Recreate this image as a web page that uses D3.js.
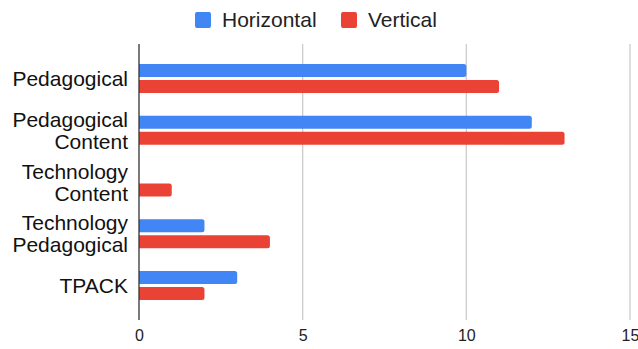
<!DOCTYPE html>
<html lang="en">
<meta charset="utf-8">
<head>
    <script src='https://d3js.org/d3.v7.min.js'></script>
    <style>
        body { margin: 0; background: #fff; }
        text { font-family: "Liberation Sans", Arial, sans-serif; }
    </style>
</head>
<body>
<div id="chart"></div>

<script>
// data
const categories = [
    ["Pedagogical"],
    ["Pedagogical", "Content"],
    ["Technology", "Content"],
    ["Technology", "Pedagogical"],
    ["TPACK"]
];
const seriesNames = ["Horizontal", "Vertical"];
const horizontal = [10, 12, 0, 2, 3];
const vertical = [11, 13, 1, 4, 2];
const xTicks = [0, 5, 10, 15];

const colors = {Horizontal: "#4285f4", Vertical: "#ea4335"};

const width = 638, height = 349;
const plot = {left: 139, right: 630, top: 44, bottom: 320};

const svg = d3.select("#chart")
    .append("svg")
    .attr("width", width)
    .attr("height", height);

// scales
const x = d3.scaleLinear()
    .domain([0, 15])
    .range([plot.left, plot.right]);

const keys = categories.map(function(c) { return c.join(" "); });
const y = d3.scaleBand()
    .domain(keys)
    .range([plot.top, plot.bottom])
    .paddingInner(0)
    .paddingOuter(0.167);

const ySub = d3.scaleBand()
    .domain(seriesNames)
    .range([-14.5, 14.5])
    .paddingInner(0.1875);

// gridlines
svg.append("g")
    .selectAll("line")
    .data(xTicks.slice(1))
    .join("line")
    .attr("x1", function(d) { return x(d); })
    .attr("x2", function(d) { return x(d); })
    .attr("y1", plot.top)
    .attr("y2", plot.bottom)
    .attr("stroke", "#cccccc")
    .attr("stroke-width", 1.3);

// bars (rounded on the right end)
function barPath(x0, x1, y0, h, r) {
    if (x1 - x0 < r) r = Math.max(0, x1 - x0);
    return "M" + x0 + "," + y0 +
        "H" + (x1 - r) +
        "A" + r + "," + r + " 0 0 1 " + x1 + "," + (y0 + r) +
        "V" + (y0 + h - r) +
        "A" + r + "," + r + " 0 0 1 " + (x1 - r) + "," + (y0 + h) +
        "H" + x0 + "Z";
}

const rows = [];
keys.forEach(function(k, i) {
    rows.push({cat: k, series: "Horizontal", value: horizontal[i]});
    rows.push({cat: k, series: "Vertical", value: vertical[i]});
});

svg.append("g")
    .selectAll("path")
    .data(rows.filter(function(d) { return d.value > 0; }))
    .join("path")
    .attr("fill", function(d) { return colors[d.series]; })
    .attr("d", function(d) {
        const cy = y(d.cat) + y.bandwidth() / 2;
        return barPath(x(0), x(d.value), cy + ySub(d.series), ySub.bandwidth(), 2.5);
    });

// zero axis line
svg.append("line")
    .attr("x1", x(0))
    .attr("x2", x(0))
    .attr("y1", plot.top)
    .attr("y2", plot.bottom)
    .attr("stroke", "#333333")
    .attr("stroke-width", 1.3);

// x tick labels
svg.append("g")
    .attr("transform", "translate(0," + plot.bottom + ")")
    .call(d3.axisBottom(x).tickValues(xTicks).tickSize(0).tickPadding(10))
    .call(function(g) { g.select(".domain").remove(); })
    .selectAll("text")
    .attr("font-size", "16px")
    .attr("fill", "#222222")
    .style("font-family", "'Liberation Sans', Arial, sans-serif");

// category labels
const labels = svg.append("g")
    .selectAll("text")
    .data(categories)
    .join("text")
    .attr("text-anchor", "end")
    .attr("font-size", "21px")
    .attr("fill", "#111111");

labels.each(function(lines, i) {
    const cy = y(keys[i]) + y.bandwidth() / 2;
    const first = cy - (lines.length - 1) * 11 + 7.5;
    d3.select(this).selectAll("tspan")
        .data(lines)
        .join("tspan")
        .attr("x", 128)
        .attr("y", function(d, j) { return first + j * 22; })
        .text(function(d) { return d; });
});

// legend
const legendItems = [
    {name: "Horizontal", x: 195},
    {name: "Vertical", x: 341}
];
const legend = svg.append("g")
    .selectAll("g")
    .data(legendItems)
    .join("g")
    .attr("transform", function(d) { return "translate(" + d.x + ",12)"; });

legend.append("rect")
    .attr("width", 16)
    .attr("height", 16)
    .attr("rx", 2)
    .attr("fill", function(d) { return colors[d.name]; });

legend.append("text")
    .attr("x", 27)
    .attr("y", 15)
    .attr("font-size", "21px")
    .attr("fill", "#222222")
    .text(function(d) { return d.name; });
</script>
</body>
</html>
